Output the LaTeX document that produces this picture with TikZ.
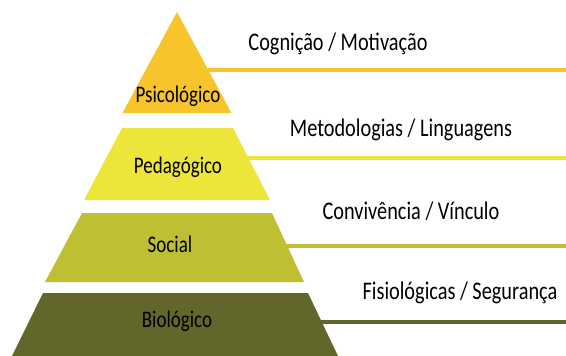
\documentclass[tikz,border=0pt]{standalone}
\usepackage{fontspec}
\setmainfont{Carlito}
\usepackage{tikz}
\definecolor{psico}{HTML}{F7C52B}
\definecolor{pedago}{HTML}{EDE63A}
\definecolor{social}{HTML}{BEBF32}
\definecolor{biolo}{HTML}{62662A}
\newcommand{\tall}[1]{\scalebox{1}[1.25]{#1}}
\tikzset{
  layerlabel/.style={font=\fontsize{19}{22}\selectfont, text=black},
  needlabel/.style={font=\fontsize{20.3}{24}\selectfont, text=black},
  needline/.style={line width=4pt}
}

\begin{document}
\begin{tikzpicture}[x=1pt,y=-1pt]
 \useasboundingbox (0,0) rectangle (566,356);

 % pyramid layers
 \fill[psico]  (177,12) -- (231.5,113) -- (122.5,113) -- cycle;
 \fill[pedago] (122,128) -- (233,128) -- (270,200) -- (84,200) -- cycle;
 \fill[social] (82,213) -- (272,213) -- (304,282) -- (45,282) -- cycle;
 \fill[biolo]  (43,293) -- (308,293) -- (338,356) -- (12,356) -- cycle;

 \draw (178,96) node[layerlabel] (psicologico) {\tall{Psicológico}};
 \draw (178,167) node[layerlabel] (pedagogico) {\tall{Pedagógico}};
 \draw (170,244) node[layerlabel] (socialtxt) {\tall{Social}};
 \draw (177,321) node[layerlabel] (biologico) {\tall{Biológico}};

 \draw (338,44) node[needlabel] (cognicao) {\tall{Cognição / Motivação}};
 \draw (401,130) node[needlabel] (metodologias) {\tall{Metodologias / Linguagens}};
 \draw (411,211) node[needlabel] (convivencia) {\tall{Convivência / Vínculo}};
 \draw (460,293) node[needlabel] (fisiologicas) {\tall{Fisiológicas / Segurança}};

 \coordinate (psico-r) at (208,70);   \coordinate (psico-e) at (566,70);
 \coordinate (pedago-r) at (247,157.5); \coordinate (pedago-e) at (566,157.5);
 \coordinate (social-r) at (286,246); \coordinate (social-e) at (566,246);
 \coordinate (biolo-r) at (320,321.7); \coordinate (biolo-e) at (566,321.7);

 \path[needline,draw=psico] (psico-r) edge (psico-e);
 \path[needline,draw=pedago] (pedago-r) edge (pedago-e);
 \path[needline,draw=social] (social-r) edge (social-e);
 \path[needline,draw=biolo] (biolo-r) edge (biolo-e);

\end{tikzpicture}
\end{document}
